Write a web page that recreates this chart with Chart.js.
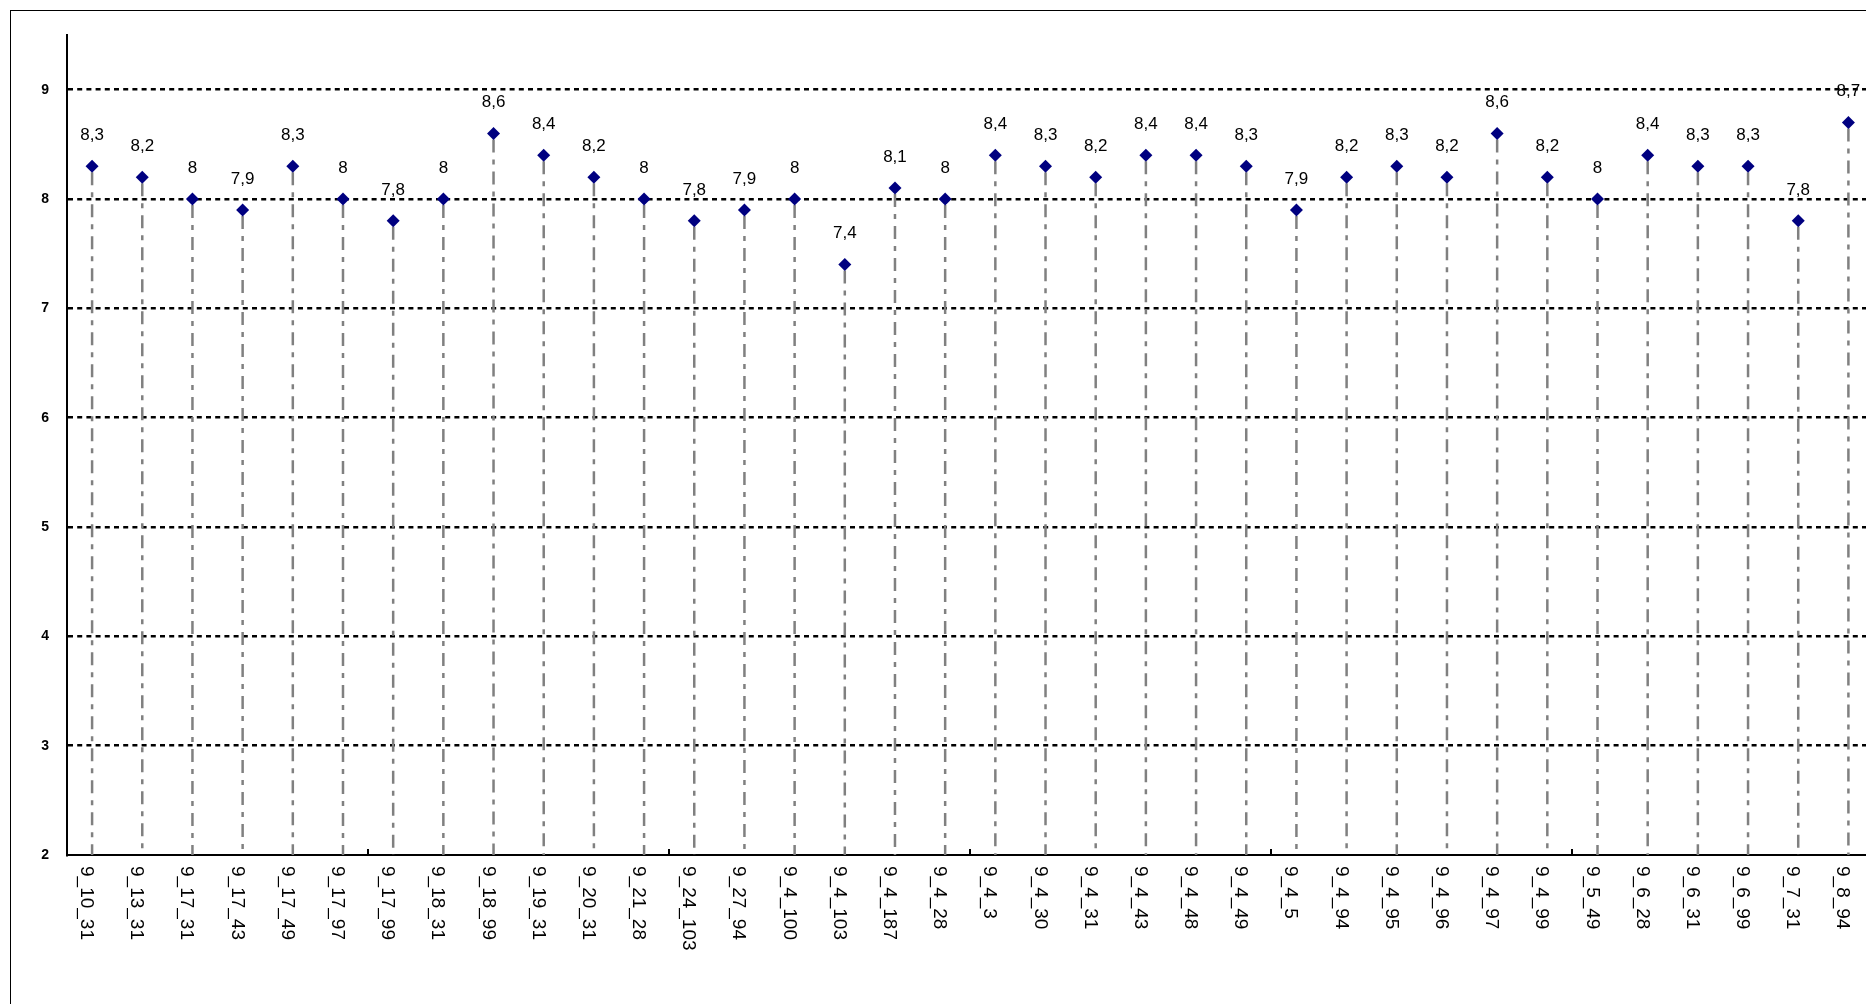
<!DOCTYPE html>
<html lang="pt">
<head>
    <meta charset="UTF-8">
    <title>Notas</title>
    <script src="https://cdn.jsdelivr.net/npm/chart.js"></script>
    <style>
        html, body {
            margin: 0;
            padding: 0;
            overflow: hidden;
            background: #fff;
        }
        .wrap {
            width: 1880px;
            height: 1040px;
        }
    </style>
</head>
<body>

<div class="wrap">
    <canvas id="notasChart" width="1880" height="1040"></canvas>
</div>

<script>
    const categorias = ['9_10_31', '9_13_31', '9_17_31', '9_17_43', '9_17_49', '9_17_97', '9_17_99', '9_18_31', '9_18_99',
        '9_19_31', '9_20_31', '9_21_28', '9_24_103', '9_27_94', '9_4_100', '9_4_103', '9_4_187', '9_4_28',
        '9_4_3', '9_4_30', '9_4_31', '9_4_43', '9_4_48', '9_4_49', '9_4_5', '9_4_94', '9_4_95',
        '9_4_96', '9_4_97', '9_4_99', '9_5_49', '9_6_28', '9_6_31', '9_6_99', '9_7_31', '9_8_94'];
    const notas = [8.3, 8.2, 8, 7.9, 8.3, 8, 7.8, 8, 8.6,
        8.4, 8.2, 8, 7.8, 7.9, 8, 7.4, 8.1, 8,
        8.4, 8.3, 8.2, 8.4, 8.4, 8.3, 7.9, 8.2, 8.3,
        8.2, 8.6, 8.2, 8, 8.4, 8.3, 8.3, 7.8, 8.7];
    const yMin = 2;
    const yMax = 9.5;

    // moldura, linhas de queda, rótulos dos pontos e rótulos do eixo x
    const extras = {
        id: 'extras',
        beforeDraw(chart) {
            const ctx = chart.ctx;
            ctx.save();
            ctx.strokeStyle = '#000';
            ctx.lineWidth = 1;
            ctx.strokeRect(10.5, 10.5, 2400, 2400);
            ctx.restore();
        },
        beforeDatasetsDraw(chart) {
            const ctx = chart.ctx;
            const base = chart.chartArea.bottom;
            ctx.save();
            ctx.strokeStyle = '#808080';
            ctx.lineWidth = 2.5;
            ctx.setLineDash([13, 7, 5, 7]);
            chart.getDatasetMeta(0).data.forEach(p => {
                ctx.beginPath();
                ctx.moveTo(p.x, p.y + 6);
                ctx.lineTo(p.x, base);
                ctx.stroke();
            });
            ctx.restore();
        },
        afterDatasetsDraw(chart) {
            const ctx = chart.ctx;
            ctx.save();
            ctx.fillStyle = '#000';
            ctx.font = '17px "Liberation Sans", Arial, sans-serif';
            ctx.textAlign = 'center';
            ctx.textBaseline = 'middle';
            chart.getDatasetMeta(0).data.forEach((p, i) => {
                ctx.fillText(String(notas[i]).replace('.', ','), p.x, p.y - 31);
            });
            ctx.restore();
        },
        afterDraw(chart) {
            const ctx = chart.ctx;
            const xs = chart.scales.x;
            const base = chart.chartArea.bottom;
            ctx.save();
            // pequenos traços no eixo x
            ctx.strokeStyle = '#000';
            ctx.lineWidth = 2;
            for (let k = 6; k < categorias.length; k += 6) {
                const x = Math.round(chart.chartArea.left + k * (xs.width / categorias.length));
                ctx.beginPath();
                ctx.moveTo(x, base);
                ctx.lineTo(x, base - 6);
                ctx.stroke();
            }
            ctx.fillStyle = '#000';
            ctx.font = '19px "Liberation Sans", Arial, sans-serif';
            ctx.textAlign = 'left';
            ctx.textBaseline = 'alphabetic';
            categorias.forEach((c, i) => {
                const x = xs.getPixelForValue(i);
                ctx.save();
                ctx.translate(x - 11, base + 11);
                ctx.rotate(Math.PI / 2);
                ctx.fillText(c, 0, 0);
                ctx.restore();
            });
            ctx.restore();
        }
    };

    const ctx = document.getElementById('notasChart').getContext('2d');
    new Chart(ctx, {
        type: 'line',
        data: {
            labels: categorias,
            datasets: [{
                data: notas,
                showLine: false,
                pointStyle: 'rectRot',
                pointRadius: 6.5,
                pointHoverRadius: 6.5,
                pointBackgroundColor: '#000080',
                pointBorderColor: '#000080',
                pointBorderWidth: 0
            }]
        },
        options: {
            responsive: false,
            animation: false,
            events: [],
            layout: {
                padding: { left: 0, top: 35, right: 5, bottom: 0 }
            },
            plugins: {
                legend: { display: false },
                tooltip: { enabled: false }
            },
            scales: {
                x: {
                    offset: true,
                    grid: { display: false },
                    border: { display: true, color: '#000', width: 2 },
                    ticks: { display: false },
                    afterFit: s => { s.height = 185; }
                },
                y: {
                    min: yMin,
                    max: yMax,
                    afterFit: s => { s.width = 67; },
                    afterBuildTicks: s => {
                        s.ticks = s.ticks.filter(t => Number.isInteger(t.value));
                    },
                    grid: {
                        color: ctx => ctx.tick && ctx.tick.value === yMin ? 'rgba(0,0,0,0)' : '#000',
                        lineWidth: 2.5,
                        drawTicks: false
                    },
                    border: { display: true, color: '#000', width: 2, dash: [5, 4.2] },
                    ticks: {
                        stepSize: 1,
                        padding: 18,
                        color: '#000',
                        font: { family: '"Liberation Sans", Arial, sans-serif', size: 14, weight: 'bold' }
                    }
                }
            }
        },
        plugins: [extras]
    });
</script>

</body>
</html>
